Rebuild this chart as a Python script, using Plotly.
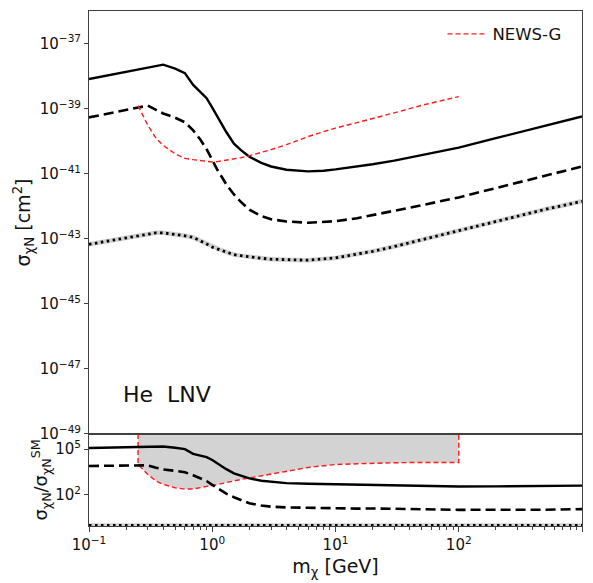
import plotly.graph_objects as go

# ---- data ----
m_chi = [0.1, 0.15, 0.2, 0.25, 0.27, 0.3, 0.35, 0.4,
         0.5, 0.6, 0.7, 0.8, 0.9, 1.0,
         1.1, 1.2, 1.3, 1.5, 1.7, 2,
         2.5, 3, 4, 6, 8, 10,
         15, 20, 30, 50, 100,
         200, 500, 1000]

log_sigma_solid = [-38.09, -37.96, -37.87, -37.80, -37.77, -37.74, -37.69, -37.65,
                   -37.77, -37.91, -38.27, -38.48, -38.68, -38.97,
                   -39.25, -39.50, -39.72, -40.08, -40.27, -40.48,
                   -40.67, -40.78, -40.88, -40.93, -40.91, -40.87,
                   -40.78, -40.71, -40.60, -40.44, -40.20,
                   -39.91, -39.53, -39.24]

log_sigma_dashed = [-39.27, -39.14, -39.05, -38.97, -38.94, -38.91, -39.04, -39.15,
                    -39.28, -39.42, -39.67, -39.95, -40.25, -40.60,
                    -40.88, -41.11, -41.33, -41.64, -41.86, -42.11,
                    -42.30, -42.40, -42.47, -42.51, -42.49, -42.46,
                    -42.37, -42.28, -42.14, -41.97, -41.73,
                    -41.45, -41.07, -40.78]

log_sigma_sm = [-43.17, -43.06, -42.97, -42.90, -42.88, -42.85, -42.82, -42.82,
                -42.86, -42.91, -42.96, -43.06, -43.16, -43.26,
                -43.31, -43.36, -43.41, -43.49, -43.52, -43.56,
                -43.60, -43.63, -43.65, -43.66, -43.62, -43.59,
                -43.47, -43.39, -43.24, -43.03, -42.75,
                -42.47, -42.10, -41.85]

log_sigma_newsg = [None, None, None, -38.91, -39.17, -39.51, -39.91, -40.13,
                   -40.39, -40.53, -40.57, -40.60, -40.62, -40.64,
                   -40.63, -40.61, -40.59, -40.55, -40.51, -40.45,
                   -40.35, -40.26, -40.11, -39.86, -39.71, -39.60,
                   -39.43, -39.31, -39.13, -38.90, -38.63,
                   None, None, None]

ratio_top = 1e6  # upper edge of the excluded (shaded) band in the ratio panel

x_tickvals = [0.1, 1, 10, 100, 1000]
x_ticktext = ["10<sup>−1</sup>", "10<sup>0</sup>", "10<sup>1</sup>", "10<sup>2</sup>", "10<sup>3</sup>"]
y_tickvals = [1e-49, 1e-47, 1e-45, 1e-43, 1e-41, 1e-39, 1e-37]
y_ticktext = ["10<sup>−49</sup>", "10<sup>−47</sup>", "10<sup>−45</sup>", "10<sup>−43</sup>",
              "10<sup>−41</sup>", "10<sup>−39</sup>", "10<sup>−37</sup>"]
r_tickvals = [1e2, 1e5]
r_ticktext = ["10<sup>2</sup>", "10<sup>5</sup>"]
x_minor = [k * 10.0 ** e for e in range(-1, 3) for k in range(2, 10)]

# ---- derived ----
def lin(v):
    return [None if a is None else 10 ** a for a in v]

solid = lin(log_sigma_solid)
dashed = lin(log_sigma_dashed)
sm = lin(log_sigma_sm)
newsg = lin(log_sigma_newsg)

def ratio(v):
    return [None if a is None else 10 ** (a - b) for a, b in zip(v, log_sigma_sm)]

r_solid = ratio(log_sigma_solid)
r_dashed = ratio(log_sigma_dashed)
r_sm = ratio(log_sigma_sm)
r_news = ratio(log_sigma_newsg)

nx = [x for x, r in zip(m_chi, r_news) if r is not None]
nr = [r for r in r_news if r is not None]
poly_x = [nx[0]] + nx + [nx[-1]]
poly_y = [ratio_top] + nr + [ratio_top]

FONT = "DejaVu Sans"
BLACK = "#000000"
RED = "#ff1a1a"
GREYBAND = "#d0d0d0"
AXC = "#404040"

fig = go.Figure()

# ----- main panel (x2, y2) -----
fig.add_trace(go.Scatter(x=m_chi, y=sm, mode="lines", xaxis="x2", yaxis="y2",
                         line=dict(color=GREYBAND, width=4.5), showlegend=False, hoverinfo="skip"))
fig.add_trace(go.Scatter(x=m_chi, y=sm, mode="lines", xaxis="x2", yaxis="y2",
                         line=dict(color=BLACK, width=2.8, dash="2.5px,3.5px"), showlegend=False))
fig.add_trace(go.Scatter(x=m_chi, y=solid, mode="lines", xaxis="x2", yaxis="y2",
                         line=dict(color=BLACK, width=2.4), showlegend=False))
fig.add_trace(go.Scatter(x=m_chi, y=dashed, mode="lines", xaxis="x2", yaxis="y2",
                         line=dict(color=BLACK, width=2.6, dash="10px,5px"), showlegend=False))
fig.add_trace(go.Scatter(x=m_chi, y=newsg, mode="lines", xaxis="x2", yaxis="y2", name="NEWS-G",
                         connectgaps=False,
                         line=dict(color=RED, width=1.4, dash="5px,3px"), showlegend=True))

# ----- ratio panel (x, y) -----
fig.add_trace(go.Scatter(x=poly_x, y=poly_y, mode="lines", xaxis="x", yaxis="y",
                         fill="toself", fillcolor="#d3d3d3",
                         line=dict(color=RED, width=1.4, dash="5px,3px"), showlegend=False))
fig.add_trace(go.Scatter(x=m_chi, y=r_sm, mode="lines", xaxis="x", yaxis="y",
                         line=dict(color=GREYBAND, width=4.5), showlegend=False, hoverinfo="skip"))
fig.add_trace(go.Scatter(x=m_chi, y=r_sm, mode="lines", xaxis="x", yaxis="y",
                         line=dict(color=BLACK, width=2.8, dash="2.5px,3.5px"), showlegend=False))
fig.add_trace(go.Scatter(x=m_chi, y=r_solid, mode="lines", xaxis="x", yaxis="y",
                         line=dict(color=BLACK, width=2.4), showlegend=False))
fig.add_trace(go.Scatter(x=m_chi, y=r_dashed, mode="lines", xaxis="x", yaxis="y",
                         line=dict(color=BLACK, width=2.6, dash="10px,5px"), showlegend=False))

split = 0.1788
common_line = dict(showline=True, linecolor=AXC, linewidth=1, mirror=True, showgrid=False, zeroline=False)

fig.update_layout(
    width=593, height=583,
    margin=dict(l=89, r=11, t=10, b=56),
    paper_bgcolor="white", plot_bgcolor="white",
    font=dict(family=FONT, size=15, color="#111111"),
    xaxis=dict(type="log", range=[-1, 3], domain=[0, 1], anchor="y",
               tickmode="array", tickvals=x_tickvals, ticktext=x_ticktext,
               ticks="outside", ticklen=5, tickwidth=1, tickcolor=AXC,
               minor=dict(ticks="outside", ticklen=3, tickwidth=0.8, tickcolor=AXC,
                          tickmode="array", tickvals=x_minor),
               tickfont=dict(size=15),
               title=dict(text="m<sub>χ</sub> [GeV]", font=dict(size=19), standoff=6),
               **common_line),
    yaxis=dict(type="log", range=[-0.04, 6], domain=[0, split], anchor="x",
               tickmode="array", tickvals=r_tickvals, ticktext=r_ticktext,
               ticks="outside", ticklen=4, tickwidth=1, tickcolor=AXC,
               tickfont=dict(size=15),
               title=dict(text="σ<sub>χN</sub>/σ<sub>χN</sub><sup>SM</sup>", font=dict(size=18), standoff=2),
               **common_line),
    xaxis2=dict(type="log", range=[-1, 3], domain=[0, 1], anchor="y2", matches="x",
                showticklabels=False, ticks="", **common_line),
    yaxis2=dict(type="log", range=[-49, -36], domain=[split, 1], anchor="x2",
                tickmode="array", tickvals=y_tickvals, ticktext=y_ticktext,
                ticks="outside", ticklen=4, tickwidth=1, tickcolor=AXC,
                tickfont=dict(size=15),
                title=dict(text="σ<sub>χN</sub> [cm<sup>2</sup>]", font=dict(size=19), standoff=4),
                **common_line),
    legend=dict(x=0.717, y=0.955, xanchor="left", yanchor="middle", itemwidth=40,
                bgcolor="rgba(255,255,255,0)", borderwidth=0, font=dict(size=16.5)),
    annotations=[dict(text="He  LNV", xref="paper", yref="paper", x=0.065, y=0.255,
                      xanchor="left", yanchor="middle", showarrow=False,
                      font=dict(size=22, color="#111111"))],
)

fig.write_html("out.html")
